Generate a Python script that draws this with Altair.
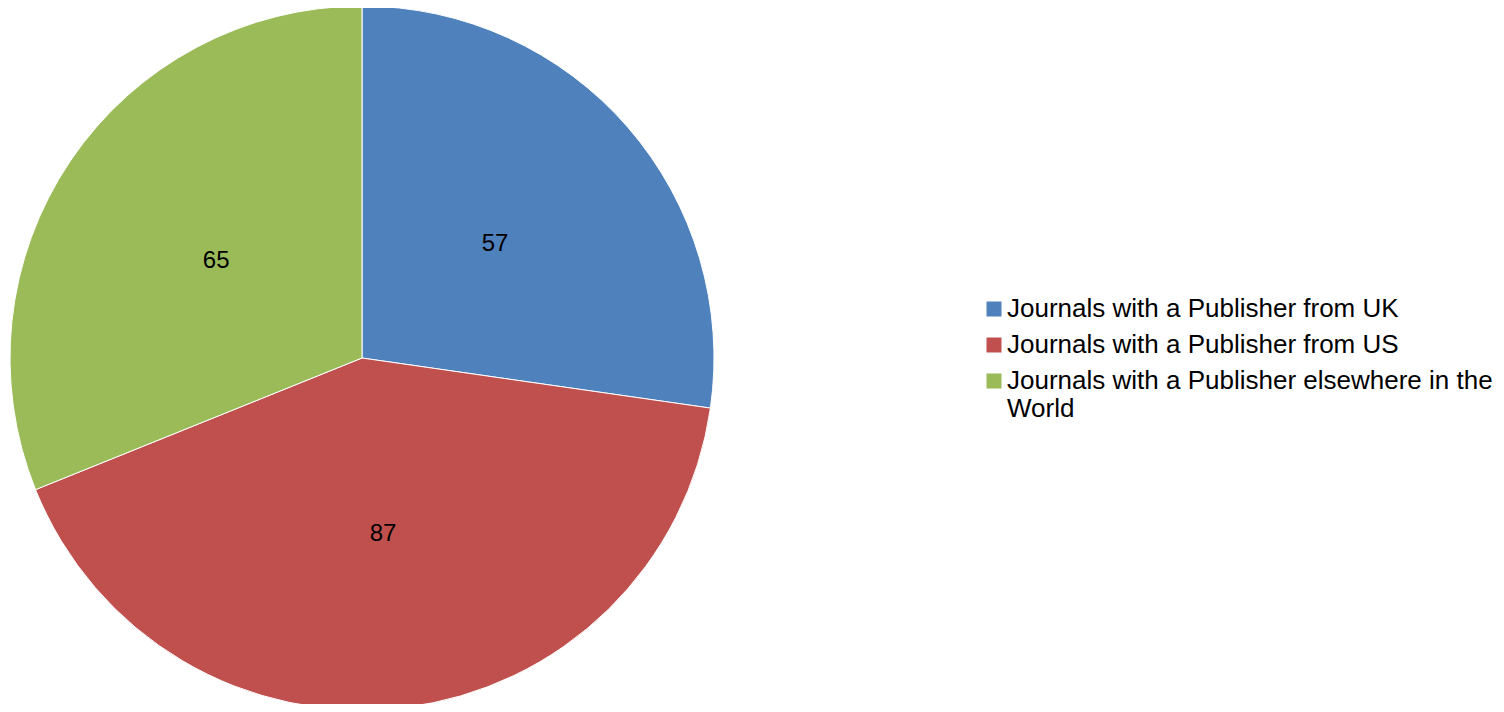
import altair as alt
import pandas as pd

categories = [
    "Journals with a Publisher from UK",
    "Journals with a Publisher from US",
    "Journals with a Publisher elsewhere in the World",
]
values = [57, 87, 65]
colors = ["#4F81BD", "#C0504D", "#9BBB59"]

df = pd.DataFrame({"category": categories, "value": values, "idx": list(range(len(values)))})

FONT = "Liberation Sans"

color = alt.Color(
    "category:N",
    scale=alt.Scale(domain=categories, range=colors),
    sort=categories,
    legend=alt.Legend(
        title=None,
        orient="none",
        legendX=973,
        legendY=288,
        padding=0,
        symbolType="square",
        symbolSize=225,
        symbolStrokeWidth=0,
        labelFont=FONT,
        labelFontSize=26,
        labelColor="#000000",
        labelOffset=0,
        labelLimit=600,
        rowPadding=10,
        labelExpr="datum.label == 'Journals with a Publisher elsewhere in the World' ? ['Journals with a Publisher elsewhere in the', 'World'] : datum.label",
    ),
)

base = alt.Chart(df).encode(
    theta=alt.Theta("value:Q", stack=True),
    order=alt.Order("idx:Q"),
)

pie = base.mark_arc(outerRadius=352, stroke="#ffffff", strokeWidth=1).encode(
    color=color,
    x=alt.value(354),
    y=alt.value(350),
)

labels = base.mark_text(radius=176, font=FONT, fontSize=24, color="#000000").encode(
    text=alt.Text("value:Q"),
    x=alt.value(354),
    y=alt.value(351),
)

chart = (
    alt.layer(pie, labels)
    .properties(
        width=1488,
        height=696,
        autosize=alt.AutoSizeParams(type="none"),
        padding=0,
        background="#ffffff",
    )
    .configure_view(stroke="transparent", strokeWidth=0)
)

chart.save("out.html", embed_options={"renderer": "svg", "actions": False})
